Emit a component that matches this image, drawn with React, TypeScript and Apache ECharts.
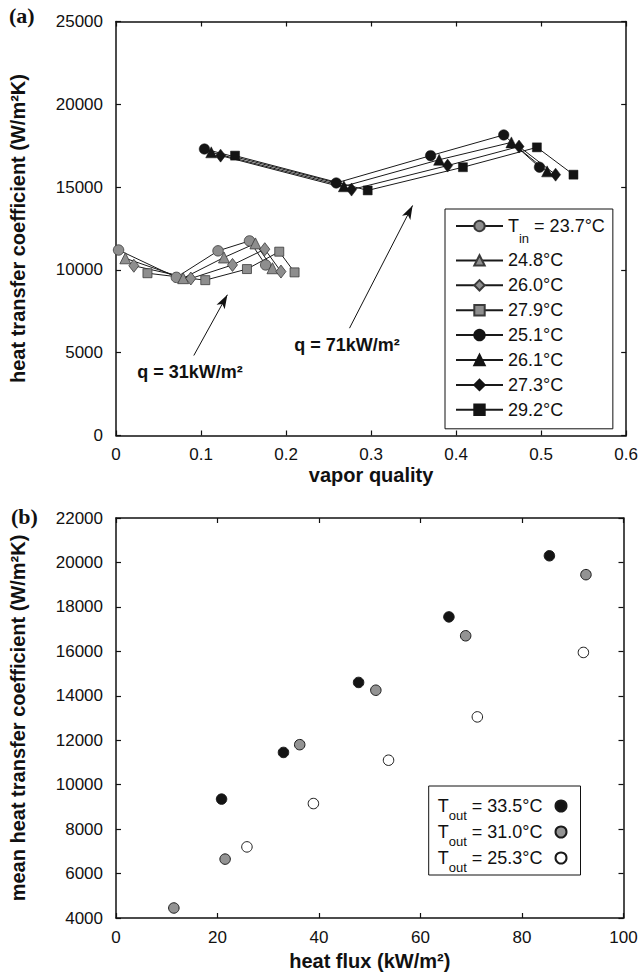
import React, { useEffect, useRef } from 'react';
import * as echarts from 'echarts';

const FONT = '"Liberation Sans", Arial, Helvetica, sans-serif';
const INK = '#111';

// ---------- Panel (a): heat transfer coefficient vs vapor quality ----------
const qualityTicks = [0, 0.1, 0.2, 0.3, 0.4, 0.5, 0.6];
const htcTicksA = [0, 5000, 10000, 15000, 20000, 25000];

// q = 31 kW/m2 (grey markers)
const lowT237 = [[0.003, 11200], [0.071, 9550], [0.120, 11150], [0.157, 11750], [0.176, 10300]];
const lowT248 = [[0.011, 10700], [0.079, 9500], [0.127, 10750], [0.164, 11600], [0.184, 10100]];
const lowT260 = [[0.021, 10250], [0.088, 9480], [0.137, 10300], [0.175, 11250], [0.194, 9900]];
const lowT279 = [[0.037, 9800], [0.105, 9380], [0.154, 10050], [0.192, 11100], [0.210, 9850]];
// q = 71 kW/m2 (black markers)
const highT251 = [[0.104, 17300], [0.259, 15250], [0.370, 16900], [0.456, 18150], [0.498, 16200]];
const highT261 = [[0.112, 17100], [0.268, 15050], [0.380, 16650], [0.465, 17700], [0.507, 15950]];
const highT273 = [[0.123, 16900], [0.277, 14850], [0.390, 16300], [0.474, 17450], [0.517, 15750]];
const highT292 = [[0.140, 16900], [0.296, 14800], [0.408, 16200], [0.495, 17400], [0.538, 15750]];

const seriesNamesA = ['T_in = 23.7°C', '24.8°C', '26.0°C', '27.9°C', '25.1°C', '26.1°C', '27.3°C', '29.2°C'];

// annotation arrows (data coordinates)
const arrow31From = [0.0915, 4830];
const arrow31To = [0.131, 8500];
const arrow71From = [0.2746, 6480];
const arrow71To = [0.3488, 13890];
const annot31 = 'q = 31kW/m²';
const annot71 = 'q = 71kW/m²';

// ---------- Panel (b): mean heat transfer coefficient vs heat flux ----------
const fluxTicks = [0, 20, 40, 60, 80, 100];
const htcTicksB = [4000, 6000, 8000, 10000, 12000, 14000, 16000, 18000, 20000, 22000];

const flux335 = [20.8, 33.0, 47.8, 65.6, 85.4];
const htc335 = [9350, 11450, 14600, 17550, 20300];
const flux310 = [11.4, 21.5, 36.2, 51.2, 68.9, 92.6];
const htc310 = [4450, 6650, 11800, 14250, 16700, 19450];
const flux253 = [25.8, 38.9, 53.7, 71.2, 92.1];
const htc253 = [7200, 9150, 11100, 13050, 15950];

const seriesNamesB = ['T_out = 33.5°C', 'T_out = 31.0°C', 'T_out = 25.3°C'];

const pairs = (xs: number[], ys: number[]) => xs.map((x, i) => [x, ys[i]]);
const plain = (v: number) => String(Math.round(v * 1000) / 1000);

function axisX(ticks: number[], gridIndex: number, position: 'bottom' | 'top', name: string, nameGap: number, labelMargin: number) {
  const labels = position === 'bottom';
  return {
    type: 'value',
    gridIndex,
    position,
    min: ticks[0],
    max: ticks[ticks.length - 1],
    interval: ticks[1] - ticks[0],
    name: labels ? name : '',
    nameLocation: 'middle',
    nameGap,
    nameTextStyle: { fontFamily: FONT, fontWeight: 'bold', fontSize: 20, color: INK },
    axisLine: { show: true, onZero: false, lineStyle: { color: INK, width: 1.5 } },
    axisTick: { show: true, inside: true, length: 5, lineStyle: { color: INK, width: 1.2 } },
    axisLabel: { show: labels, margin: labelMargin, fontFamily: FONT, fontSize: 17, color: INK, formatter: plain },
    splitLine: { show: false },
  };
}

function axisY(ticks: number[], gridIndex: number, position: 'left' | 'right', name: string, nameGap: number) {
  const labels = position === 'left';
  return {
    type: 'value',
    gridIndex,
    position,
    min: ticks[0],
    max: ticks[ticks.length - 1],
    interval: ticks[1] - ticks[0],
    name: labels ? name : '',
    nameLocation: 'middle',
    nameGap,
    nameRotate: 90,
    nameTextStyle: { fontFamily: FONT, fontWeight: 'bold', fontSize: 20, color: INK },
    axisLine: { show: true, onZero: false, lineStyle: { color: INK, width: 1.5 } },
    axisTick: { show: true, inside: true, length: 5, lineStyle: { color: INK, width: 1.2 } },
    axisLabel: { show: labels, margin: 13, fontFamily: FONT, fontSize: 17, color: INK, formatter: plain },
    splitLine: { show: false },
  };
}

const GREY = '#8e8e8e';
const BLACK = '#141414';

function lineSeriesA(name: string, data: number[][], symbol: string, symbolSize: number | number[], grey: boolean, extra: any = {}) {
  return {
    type: 'line',
    name,
    xAxisIndex: 0,
    yAxisIndex: 0,
    data,
    symbol,
    symbolSize,
    showSymbol: true,
    lineStyle: { color: '#1a1a1a', width: 1 },
    itemStyle: grey
      ? { color: GREY, borderColor: '#3a3a3a', borderWidth: 0.8 }
      : { color: BLACK, borderColor: BLACK, borderWidth: 0.5 },
    emphasis: { disabled: true },
    z: 3,
    ...extra,
  };
}

function scatterB(name: string, data: number[][], fill: string) {
  return {
    type: 'scatter',
    name,
    xAxisIndex: 2,
    yAxisIndex: 2,
    data,
    symbol: 'circle',
    symbolSize: 10.5,
    itemStyle: { color: fill, borderColor: '#1a1a1a', borderWidth: 1, opacity: 1 },
    emphasis: { disabled: true },
  };
}

export default function App() {
  const ref = useRef<HTMLDivElement>(null);

  useEffect(() => {
    if (!ref.current) return;
    const chart = echarts.init(ref.current, undefined, { renderer: 'svg' });

    const arrowMarkLine = {
      silent: true,
      symbol: ['none', 'arrow'],
      symbolSize: [7, 14],
      lineStyle: { color: INK, width: 1, type: 'solid' },
      label: { show: false },
      emphasis: { disabled: true },
      data: [
        [{ coord: arrow31From }, { coord: arrow31To }],
        [{ coord: arrow71From }, { coord: arrow71To }],
      ],
    };

    const subRich = (lh: number) => ({
      n: { fontFamily: FONT, fontSize: 18, color: INK, lineHeight: lh },
      sub: { fontFamily: FONT, fontSize: 13, color: INK, verticalAlign: 'bottom' },
    });
    const subFormatter = (name: string) => {
      const m = name.match(/^T_(\w+)(.*)$/);
      return m ? `{n|T}{sub|${m[1]}}{n|${m[2]}}` : name;
    };

    const option: any = {
      animation: false,
      backgroundColor: '#fff',
      grid: [
        { left: 114.5, top: 21.5, width: 513, height: 414 },
        { left: 114.5, top: 518, width: 509, height: 400 },
      ],
      xAxis: [
        axisX(qualityTicks, 0, 'bottom', 'vapor quality', 29, 10),
        axisX(qualityTicks, 0, 'top', '', 0, 8),
        axisX(fluxTicks, 1, 'bottom', 'heat flux (kW/m²)', 33, 11),
        axisX(fluxTicks, 1, 'top', '', 0, 8),
      ],
      yAxis: [
        axisY(htcTicksA, 0, 'left', 'heat transfer coefficient (W/m²K)', 88),
        axisY(htcTicksA, 0, 'right', '', 0),
        axisY(htcTicksB, 1, 'left', 'mean heat transfer coefficient (W/m²K)', 88),
        axisY(htcTicksB, 1, 'right', '', 0),
      ],
      legend: [
        {
          data: seriesNamesA,
          orient: 'vertical',
          left: 445,
          top: 209,
          padding: [8, 8, 10, 10],
          itemGap: 6.9,
          itemWidth: 47,
          itemHeight: 13,
          selectedMode: false,
          backgroundColor: '#fff',
          borderColor: INK,
          borderWidth: 1,
          formatter: subFormatter,
          textStyle: { fontFamily: FONT, fontSize: 18, color: INK, rich: subRich(37) },
        },
        {
          data: seriesNamesB,
          orient: 'vertical',
          align: 'right',
          left: 428.7,
          top: 786,
          padding: [11, 13, 1, 9],
          itemGap: 1,
          itemWidth: 11,
          itemHeight: 11,
          selectedMode: false,
          backgroundColor: '#fff',
          borderColor: INK,
          borderWidth: 1,
          formatter: subFormatter,
          textStyle: { fontFamily: FONT, fontSize: 18, color: INK, padding: [0, 8, 0, 0], rich: subRich(32) },
        },
      ],
      series: [
        lineSeriesA(seriesNamesA[0], lowT237, 'circle', 10.5, true, { markLine: arrowMarkLine }),
        lineSeriesA(seriesNamesA[1], lowT248, 'triangle', 11, true),
        lineSeriesA(seriesNamesA[2], lowT260, 'diamond', [10, 13], true),
        lineSeriesA(seriesNamesA[3], lowT279, 'rect', 9, true),
        lineSeriesA(seriesNamesA[4], highT251, 'circle', 10.5, false),
        lineSeriesA(seriesNamesA[5], highT261, 'triangle', 11, false),
        lineSeriesA(seriesNamesA[6], highT273, 'diamond', [10, 13], false),
        lineSeriesA(seriesNamesA[7], highT292, 'rect', 9, false),
        scatterB(seriesNamesB[0], pairs(flux335, htc335), BLACK),
        scatterB(seriesNamesB[1], pairs(flux310, htc310), '#939393'),
        scatterB(seriesNamesB[2], pairs(flux253, htc253), '#ffffff'),
      ],
      graphic: [
        {
          type: 'text',
          left: 9,
          top: 4,
          style: { text: '(a)', fontFamily: '"Liberation Serif", "Times New Roman", serif', fontWeight: 'bold', fontSize: 22, fill: INK },
        },
        {
          type: 'text',
          left: 11,
          top: 505,
          style: { text: '(b)', fontFamily: '"Liberation Serif", "Times New Roman", serif', fontWeight: 'bold', fontSize: 22, fill: INK },
        },
        {
          type: 'text',
          x: 190,
          y: 372,
          style: { text: annot31, fontFamily: FONT, fontWeight: 'bold', fontSize: 18, fill: INK, align: 'center', verticalAlign: 'middle' },
        },
        {
          type: 'text',
          x: 347,
          y: 345,
          style: { text: annot71, fontFamily: FONT, fontWeight: 'bold', fontSize: 18, fill: INK, align: 'center', verticalAlign: 'middle' },
        },
      ],
    };

    chart.setOption(option);
    return () => chart.dispose();
  }, []);

  return (
    <div
      ref={ref}
      style={{ position: 'fixed', left: 0, top: 0, width: 641, height: 975, background: '#fff' }}
    />
  );
}
